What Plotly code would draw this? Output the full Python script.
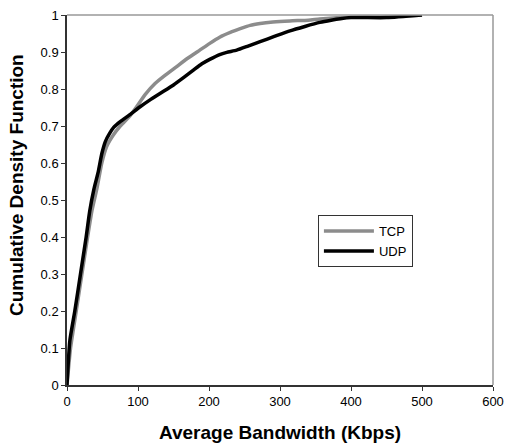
import plotly.graph_objects as go

tcp_x = [0, 5, 13, 21, 29, 35, 42, 49, 56, 65, 75, 88, 98, 110, 124, 138, 154, 170, 187, 200,
         215, 230, 244, 258, 272, 290, 314, 340, 356, 385, 400, 450, 500]
tcp_y = [0, 0.1, 0.2, 0.3, 0.4, 0.47, 0.53, 0.6, 0.645, 0.675, 0.7, 0.726, 0.752, 0.785, 0.815,
         0.837, 0.86, 0.883, 0.905, 0.922, 0.94, 0.953, 0.963, 0.972, 0.977, 0.981, 0.984, 0.986,
         0.989, 0.993, 0.994, 0.995, 1.0]

udp_x = [0, 4, 11, 19, 27, 32, 38, 44, 49, 54, 60, 66, 75, 88, 103, 118, 131, 150, 165, 178,
         190, 201, 215, 225, 239, 255, 272, 292, 314, 335, 356, 372, 385, 400, 450, 500]
udp_y = [0, 0.12, 0.2, 0.3, 0.4, 0.47, 0.53, 0.576, 0.625, 0.658, 0.68, 0.697, 0.712, 0.73,
         0.752, 0.772, 0.788, 0.811, 0.832, 0.851, 0.868, 0.88, 0.893, 0.899, 0.905, 0.916,
         0.928, 0.942, 0.957, 0.969, 0.98, 0.986, 0.99, 0.993, 0.993, 1.0]

x_ticks = [0, 100, 200, 300, 400, 500, 600]
y_ticks = [0, 0.1, 0.2, 0.3, 0.4, 0.5, 0.6, 0.7, 0.8, 0.9, 1]
y_labels = ["0", "0.1", "0.2", "0.3", "0.4", "0.5", "0.6", "0.7", "0.8", "0.9", "1"]

FONT = "Liberation Sans, Arial, sans-serif"

fig = go.Figure()
fig.add_trace(go.Scatter(x=tcp_x, y=tcp_y, name="TCP", mode="lines",
                         line=dict(color="#8c8c8c", width=3.5, shape="spline", smoothing=0.5)))
fig.add_trace(go.Scatter(x=udp_x, y=udp_y, name="UDP", mode="lines",
                         line=dict(color="#000000", width=3.5, shape="spline", smoothing=0.5)))

fig.update_layout(
    width=505, height=447,
    margin=dict(l=67, r=12, t=15, b=62, autoexpand=False),
    paper_bgcolor="white", plot_bgcolor="white",
    font=dict(family=FONT, size=13, color="#000"),
    showlegend=True,
    legend=dict(x=0.589, y=0.459, xanchor="left", yanchor="top",
                bgcolor="white", bordercolor="#333", borderwidth=1,
                font=dict(size=13), itemwidth=50, tracegroupgap=0),
    xaxis=dict(range=[0, 600], tickvals=x_ticks, showgrid=False, zeroline=False,
               automargin=False,
               showline=True, linecolor="#333", linewidth=1.5,
               ticks="outside", ticklen=4, tickcolor="#333",
               tickfont=dict(size=13),
               title=dict(text="<b>Average Bandwidth (Kbps)</b>", font=dict(size=19), standoff=17)),
    yaxis=dict(range=[0, 1], tickvals=y_ticks, ticktext=y_labels, showgrid=False, zeroline=False,
               automargin=False,
               showline=True, linecolor="#333", linewidth=1.5,
               ticks="outside", ticklen=4, tickcolor="#333",
               tickfont=dict(size=13)),
    annotations=[
        dict(text="<b>Cumulative Density Function</b>", xref="paper", yref="paper",
             x=-0.12, y=0.54, xanchor="center", yanchor="middle", textangle=-90,
             showarrow=False, font=dict(size=19)),
    ],
    shapes=[
        dict(type="line", xref="paper", yref="paper", x0=0, x1=1, y0=1, y1=1,
             line=dict(color="#999", width=1.5)),
        dict(type="line", xref="paper", yref="paper", x0=1, x1=1, y0=0, y1=1,
             line=dict(color="#999", width=1.5)),
    ],
)

fig.write_html("out.html", config={"displayModeBar": False},
               post_script="document.body.style.margin='0';")
